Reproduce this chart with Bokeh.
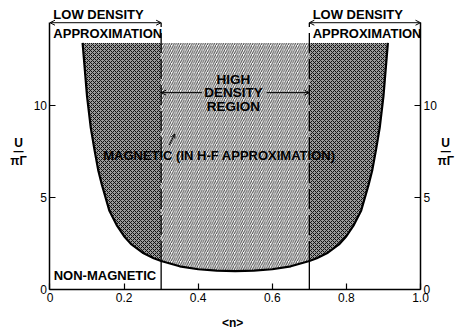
import numpy as np
from bokeh.plotting import figure
from bokeh.models import Range1d, LinearAxis, Label, Arrow, OpenHead, FixedTicker
from bokeh.embed import file_html
from bokeh.resources import INLINE

# boundary of the magnetic region: <n> versus U/(pi Gamma)
n_vals = [0.088, 0.10, 0.11, 0.12, 0.13, 0.14, 0.16, 0.18, 0.20, 0.22, 0.25, 0.28, 0.30,
          0.35, 0.40, 0.45, 0.50, 0.55, 0.60, 0.65,
          0.70, 0.72, 0.75, 0.78, 0.80, 0.82, 0.84, 0.86, 0.87, 0.88, 0.89, 0.90, 0.912]
u_vals = [13.4, 10.5, 8.8, 7.6, 6.5, 5.7, 4.3, 3.5, 2.9, 2.45, 2.0, 1.7, 1.55,
          1.26, 1.1, 1.03, 1.0, 1.03, 1.1, 1.26,
          1.55, 1.7, 2.0, 2.45, 2.9, 3.5, 4.3, 5.7, 6.5, 7.6, 8.8, 10.5, 13.4]
region_bounds = [0.3, 0.7]      # low density | high density | low density
shade_top = 13.4
axis_top = 14.5
x_ticks = [0, 0.2, 0.4, 0.6, 0.8, 1.0]
y_ticks = [0, 5, 10]

n = np.array(n_vals)
u = np.array(u_vals)

W, H = 456, 332
p = figure(width=W, height=H,
           x_range=Range1d(-0.1336, 1.0972), y_range=Range1d(-2.337, 15.707),
           x_axis_location=None, y_axis_location=None,
           output_backend="svg", toolbar_location=None,
           min_border_left=0, min_border_right=0, min_border_top=0, min_border_bottom=0)
p.outline_line_color = None
p.grid.visible = False
p.background_fill_color = "white"
p.border_fill_color = "white"

FONT = "Liberation Sans"

# shaded regions
lo, hi = region_bounds
mL = n <= lo
mM = (n >= lo) & (n <= hi)
mR = n >= hi
for m in (mL, mR):
    p.varea(x=n[m], y1=u[m], y2=np.full(m.sum(), shade_top),
            fill_color="#9a9a9a", fill_alpha=1.0,
            hatch_pattern="diagonal_cross", hatch_color="#111111",
            hatch_scale=4, hatch_weight=1.0)
p.varea(x=n[mM], y1=u[mM], y2=np.full(mM.sum(), shade_top),
        fill_color="#ffffff", fill_alpha=1.0,
        hatch_pattern="right_diagonal_line", hatch_color="#444444",
        hatch_scale=4.5, hatch_weight=1.0)

# boundary curve
p.line(n, u, line_color="black", line_width=2.2)

# region dividers
for b in region_bounds:
    ub = float(np.interp(b, n, u))
    p.segment(x0=[b], y0=[0], x1=[b], y1=[ub], line_color="black", line_width=1.3)
    p.segment(x0=[b], y0=[ub], x1=[b], y1=[axis_top], line_color="black",
              line_width=1.3, line_dash="20 6")

# axes, pinned at the data edges of the diagram
xax = LinearAxis(ticker=FixedTicker(ticks=x_ticks), fixed_location=0, bounds=(0, 1))
xax.major_label_overrides = {1.0: "1.0"}
yax = LinearAxis(ticker=FixedTicker(ticks=y_ticks), fixed_location=0, bounds=(0, axis_top))
yax2 = LinearAxis(ticker=FixedTicker(ticks=y_ticks), fixed_location=1, bounds=(0, axis_top))
p.add_layout(xax, "below")
p.add_layout(yax, "left")
p.add_layout(yax2, "right")
for ax in (xax, yax, yax2):
    ax.major_tick_in = 6
    ax.major_tick_out = 0
    ax.minor_tick_line_color = None
    ax.axis_line_width = 1.5
    ax.axis_line_color = "black"
    ax.major_tick_line_color = "black"
    ax.major_tick_line_width = 1.2
    ax.major_label_text_font = FONT
    ax.major_label_text_font_size = "12px"
    ax.major_label_text_color = "black"
    ax.major_label_standoff = 3

def lab(x, y, text, size="13px", style="bold", align="center"):
    p.add_layout(Label(x=x, y=y, text=text,
                       text_font=FONT, text_font_size=size, text_font_style=style,
                       text_align=align, text_baseline="middle", text_color="black"))

# low density labels and arrows
lab(0.009, 14.95, "LOW DENSITY", align="left")
lab(0.009, 13.9, "APPROXIMATION", align="left")
lab(0.709, 14.95, "LOW DENSITY", align="left")
lab(0.709, 13.9, "APPROXIMATION", align="left")
for (a, b2) in [(0.0, lo), (hi, 1.0)]:
    p.add_layout(Arrow(x_start=a, y_start=axis_top, x_end=b2, y_end=axis_top,
                       line_width=1, line_color="black",
                       start=OpenHead(size=5, line_width=1), end=OpenHead(size=5, line_width=1)))

# high density label and arrows
lab(0.495, 11.4, "HIGH", size="13.5px")
lab(0.495, 10.7, "DENSITY", size="13.5px")
lab(0.495, 9.95, "REGION", size="13.5px")
p.add_layout(Arrow(x_start=0.41, y_start=10.7, x_end=lo, y_end=10.7, line_width=1,
                   end=OpenHead(size=5, line_width=1)))
p.add_layout(Arrow(x_start=0.585, y_start=10.7, x_end=hi, y_end=10.7, line_width=1,
                   end=OpenHead(size=5, line_width=1)))

lab(0.457, 7.3, "MAGNETIC (IN H-F APPROXIMATION)")
p.add_layout(Arrow(x_start=0.322, y_start=7.85, x_end=0.337, y_end=8.45, line_width=1,
                   end=OpenHead(size=4, line_width=1)))
lab(0.01, 0.76, "NON-MAGNETIC", align="left")

# axis titles
lab(0.493, -1.8, "<n>", size="12px")
lab(-0.085, 7.95, "U", size="12px")
lab(-0.085, 7.5, "—", size="10px")
lab(-0.085, 7.0, "πΓ", size="12px")
lab(1.068, 7.95, "U", size="12px")
lab(1.068, 7.5, "—", size="10px")
lab(1.068, 7.0, "πΓ", size="12px")

open("out.html", "w").write(file_html(p, INLINE))
